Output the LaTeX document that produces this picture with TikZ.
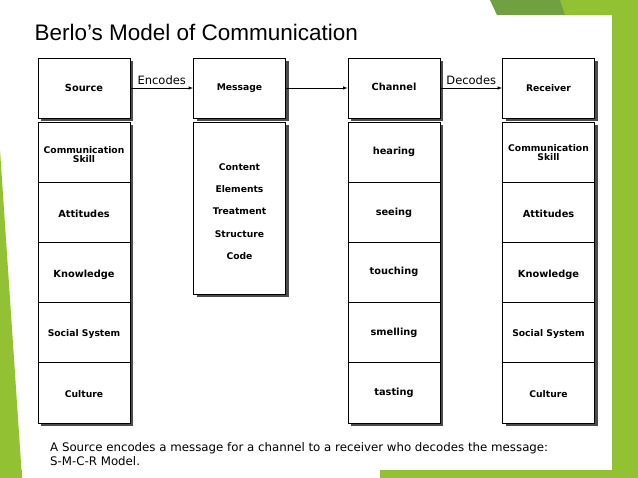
\documentclass[tikz,border=0pt]{standalone}
\usepackage{fontspec}
\setmainfont{Liberation Sans}
\newfontfamily\djv{DejaVu Sans}
\usetikzlibrary{shadows}
\definecolor{lg}{RGB}{146,194,52}
\definecolor{dg}{RGB}{112,160,66}
\begin{document}
\begin{tikzpicture}[x=1pt,y=-1pt,
 bx/.style={draw=black,line width=0.8pt,fill=white,minimum width=92pt,inner sep=0pt,
   drop shadow={shadow xshift=3pt,shadow yshift=-3pt,fill=black!70,opacity=1}},
 lb/.style={font=\djv\bfseries\fontsize{9.2}{10}\selectfont,align=center},
 lb2/.style={font=\djv\bfseries\fontsize{9.8}{11}\selectfont,align=center},
 cl/.style={draw=black,line width=0.8pt},
 arr/.style={-latex,line width=0.6pt}]
\useasboundingbox (0,0) rectangle (638,478);
\fill[white] (0,0) rectangle (638,478);
% decorations
\fill[dg] (490,0) -- (638,0) -- (638,15) -- (497,15) -- cycle;
\fill[lg] (560,0) -- (638,0) -- (638,478) -- (612,478) -- (612,15) -- (565,15) -- cycle;
\fill[lg] (0,150) -- (22,478) -- (0,478) -- cycle;
\fill[lg] (380,470) -- (612,470) -- (612,478) -- (380,478) -- cycle;
\fill[lg] (0,470) -- (22,470) -- (22,478) -- (0,478) -- cycle;
\node[anchor=west,font=\fontsize{22.5}{26}\selectfont] (title) at (31,32) {Berlo's Model of Communication};
% top boxes
\node[bx,minimum height=60pt] (src) at (84,88) {};
\node[lb2] at (src) {Source};
\node[bx,minimum height=60pt] (msg) at (239.5,88) {};
\node[lb] at (msg) {Message};
\node[bx,minimum height=60pt] (chn) at (394,88) {};
\node[lb2] at ([yshift=1.5pt]chn) {Channel};
\node[bx,minimum height=60pt] (rcv) at (548.5,88) {};
\node[lb] at (rcv) {Receiver};
\draw[arr] (src.east) -- node[above,font=\djv\fontsize{11.5}{12}\selectfont] (enc) {Encodes} (msg.west);
\draw[arr] (msg.east) -- (chn.west);
\draw[arr] (chn.east) -- node[above,font=\djv\fontsize{11.5}{12}\selectfont] (dec) {Decodes} (rcv.west);
% stacks
\node[bx,minimum height=301pt] (s1) at (84,272.5) {};
\node[bx,minimum height=172pt] (m1) at (239.5,208) {};
\node[bx,minimum height=301pt] (c1) at (394,272.5) {};
\node[bx,minimum height=301pt] (r1) at (548.5,272.5) {};
\foreach \n in {s1,c1,r1}{
 \foreach \y in {182,242,302,362}{ \draw[cl] (\n.west |- 0,\y) -- (\n.east |- 0,\y); }}
\node[lb] (sa) at (84,155) {Communication\\[-1pt]Skill};
\node[lb2] (sb) at (84,214) {Attitudes};
\node[lb2] (sc) at (84,275) {Knowledge};
\node[lb] (sd) at (84,334) {Social System};
\node[lb] (se) at (84,394) {Culture};
\node[lb] (ra) at (548.5,153) {Communication\\[-1pt]Skill};
\node[lb2] (rb) at (548.5,214) {Attitudes};
\node[lb2] (rc) at (548.5,275) {Knowledge};
\node[lb] (rd) at (548.5,334) {Social System};
\node[lb] (re) at (548.5,394) {Culture};
\node[lb2] (ca) at (394,152) {hearing};
\node[lb2] (cb) at (394,213) {seeing};
\node[lb2] (cc) at (394,272) {touching};
\node[lb2] (cd) at (394,333) {smelling};
\node[lb2] (ce) at (394,393) {tasting};
\node[lb] (ma) at (239.5,167) {Content};
\node[lb] (mb) at (239.5,189) {Elements};
\node[lb] (mc) at (239.5,211) {Treatment};
\node[lb] (md) at (239.5,234) {Structure};
\node[lb] (me) at (239.5,256) {Code};
\node[anchor=north west,align=left,inner sep=0pt,font=\djv\fontsize{11.8}{14}\selectfont] (cap) at (50,442)
 {A Source encodes a message for a channel to a receiver who decodes the message:\\S-M-C-R Model.};
\end{tikzpicture}
\end{document}
